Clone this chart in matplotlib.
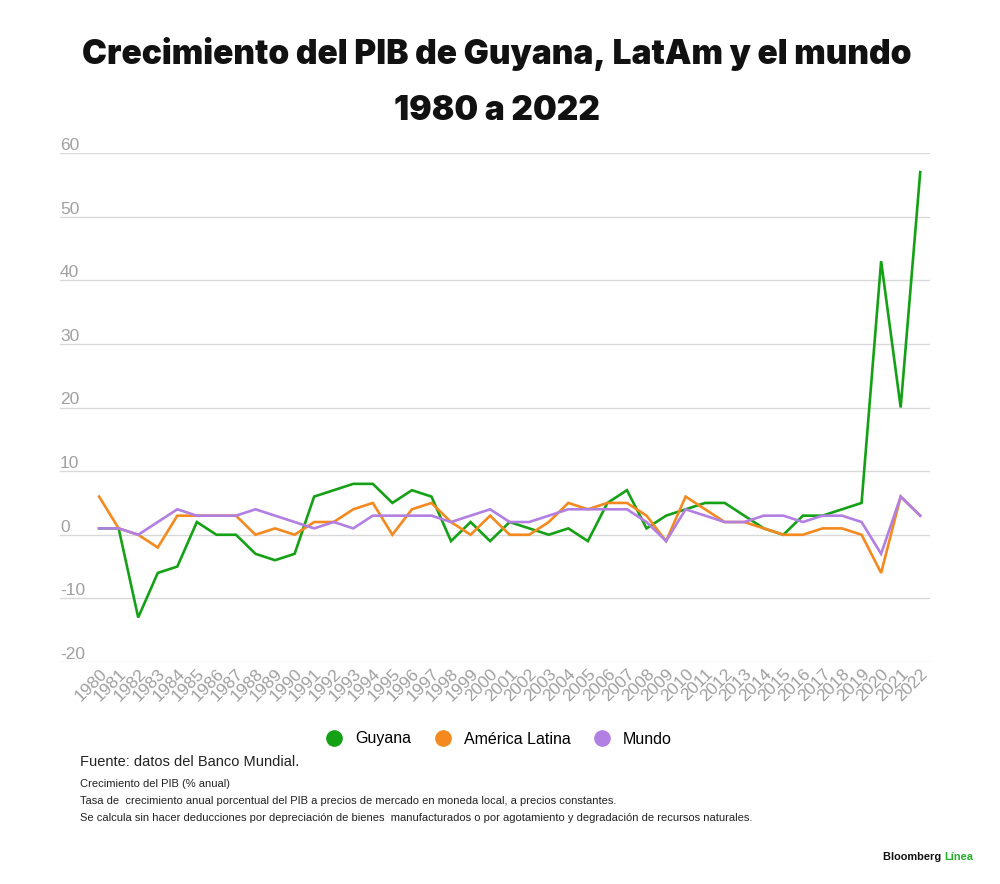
#!/usr/bin/env python3
"""Crecimiento del PIB de Guyana, LatAm y el mundo, 1980 a 2022"""
import matplotlib
matplotlib.use('Agg')
import matplotlib.pyplot as plt
from matplotlib.lines import Line2D

years = list(range(1980, 2023))

# crecimiento anual del PIB (%)
guyana = [1, 1, -13, -6, -5, 2, 0, 0, -3, -4,
          -3, 6, 7, 8, 8, 5, 7, 6, -1, 2,
          -1, 2, 1, 0, 1, -1, 5, 7, 1, 3,
          4, 5, 5, 3, 1, 0, 3, 3, 4, 5,
          43, 20, 57]
latam = [6, 1, 0, -2, 3, 3, 3, 3, 0, 1,
         0, 2, 2, 4, 5, 0, 4, 5, 2, 0,
         3, 0, 0, 2, 5, 4, 5, 5, 3, -1,
         6, 4, 2, 2, 1, 0, 0, 1, 1, 0,
         -6, 6, 3]
mundo = [1, 1, 0, 2, 4, 3, 3, 3, 4, 3,
         2, 1, 2, 1, 3, 3, 3, 3, 2, 3,
         4, 2, 2, 3, 4, 4, 4, 4, 2, -1,
         4, 3, 2, 2, 3, 3, 2, 3, 3, 2,
         -3, 6, 3]

series_names = ['Guyana', 'América Latina', 'Mundo']
colors = ['#15a115', '#f4891f', '#b27fe2']
yticks = [-20, -10, 0, 10, 20, 30, 40, 50, 60]

title = 'Crecimiento del PIB de Guyana, LatAm y el mundo\n1980 a 2022'
fuente = 'Fuente: datos del Banco Mundial.'
notas = ['Crecimiento del PIB (% anual)',
         'Tasa de  crecimiento anual porcentual del PIB a precios de mercado en moneda local, a precios constantes.',
         'Se calcula sin hacer deducciones por depreciación de bienes  manufacturados o por agotamiento y degradación de recursos naturales.']

plt.rcParams['font.family'] = ['Liberation Sans', 'DejaVu Sans']

fig = plt.figure(figsize=(10, 8.84), dpi=100)
ax = fig.add_axes([0.06, 1 - 662 / 884, 0.87, (662 - 153) / 884])

for vals, c in zip([guyana, latam, mundo], colors):
	ax.plot(years, vals, color=c, linewidth=1.9, solid_joinstyle='miter')

ax.set_xlim(1978, 2022.5)
ax.set_ylim(-20, 60)
ax.set_yticks(yticks)
ax.set_yticklabels([])
ax.grid(axis='y', color='#d9d9d9', linewidth=1)
ax.set_axisbelow(True)
for s in ax.spines.values():
	s.set_visible(False)
ax.tick_params(axis='both', length=0)

# y labels sit just above the gridlines on the left
for v in yticks:
	ax.text(1978, v, str(v), color='#a0a0a0', fontsize=12.5,
	        ha='left', va='bottom', transform=ax.transData)

ax.set_xticks(years)
ax.set_xticklabels([str(y) for y in years], rotation=45, ha='right',
                   rotation_mode='anchor', color='#a0a0a0', fontsize=12.5)
ax.tick_params(axis='x', pad=3)

fig.text(0.497, 0.958, title, ha='center', va='top', fontsize=24.1,
         fontweight=900, family=['Inter', 'DejaVu Sans'], linespacing=1.95,
         color='#111111')

handles = [Line2D([], [], marker='o', linestyle='none', markersize=11,
                  markerfacecolor=c, markeredgecolor=c) for c in colors]
fig.legend(handles, series_names, loc='center', bbox_to_anchor=(0.495, 1 - 739 / 884),
           ncol=3, frameon=False, fontsize=11.5, handletextpad=0.3, columnspacing=1.0)

fig.text(0.08, 1 - 762 / 884, fuente, fontsize=10.5, va='center', color='#222222')
for i, line in enumerate(notas):
	fig.text(0.08, 1 - (784 + 17 * i) / 884, line, fontsize=8, va='center', color='#222222')

t1 = fig.text(0.883, 1 - 857 / 884, 'Bloomberg ', fontsize=7.9, fontweight='bold',
              va='center', color='#111111')
fig.canvas.draw()
bb = t1.get_window_extent()
fig.text(bb.x1 / fig.bbox.width, 1 - 857 / 884, 'Línea', fontsize=7.9, fontweight='bold',
         va='center', color='#22b02a')

fig.savefig('out.png', dpi=100)
